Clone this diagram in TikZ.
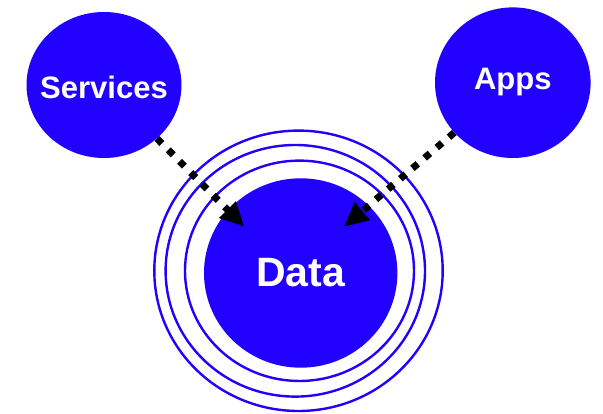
\documentclass[tikz,border=0pt]{standalone}
\usepackage{fontspec}
\setmainfont{Liberation Sans}
\usetikzlibrary{shapes.geometric,arrows.meta}
\definecolor{hubblue}{RGB}{34,0,255}
\begin{document}
\begin{tikzpicture}[x=1pt,y=-1pt,
  bubble/.style={ellipse,fill=hubblue,draw=none,inner sep=0pt,text=white,
    font=\bfseries\fontsize{31}{31}\selectfont},
  ring/.style={draw=hubblue,line width=2.4pt},
  flow/.style={line width=7pt,dash pattern=on 7pt off 9pt,
    -{Triangle[length=24pt,width=22pt]}}]
\useasboundingbox (0,0) rectangle (603,414);

% concentric rings around the data hub
\draw[ring] (298.5,270.8) ellipse [x radius=144.2pt, y radius=140.2pt];
\draw[ring] (295.3,270.8) ellipse [x radius=129.7pt, y radius=125.8pt];
\draw[ring] (299.5,270.8) ellipse [x radius=114.5pt, y radius=110.2pt];

% hub and satellites (labels kept out of the shape size)
\node[bubble,minimum width=193.4pt,minimum height=189.4pt,
  font=\bfseries\fontsize{41}{41}\selectfont] (data) at (300.7,273)
  {\makebox[0pt]{Data}};
\node[bubble,minimum width=155pt,minimum height=146pt,
  text height=27.2pt,text depth=0pt] (services) at (104,85)
  {\makebox[0pt]{Services}};
\node[bubble,minimum width=155.6pt,minimum height=150.6pt,
  text height=22.2pt,text depth=9.4pt] (apps) at (512.8,82.7)
  {\makebox[0pt]{Apps}};

% flows into the hub
\coordinate (servicesTip) at (244.3,226.7);
\coordinate (appsTip) at (344,226.7);
\draw[flow] (services) -- (servicesTip);
\draw[flow] (apps) -- (appsTip);
\end{tikzpicture}
\end{document}
